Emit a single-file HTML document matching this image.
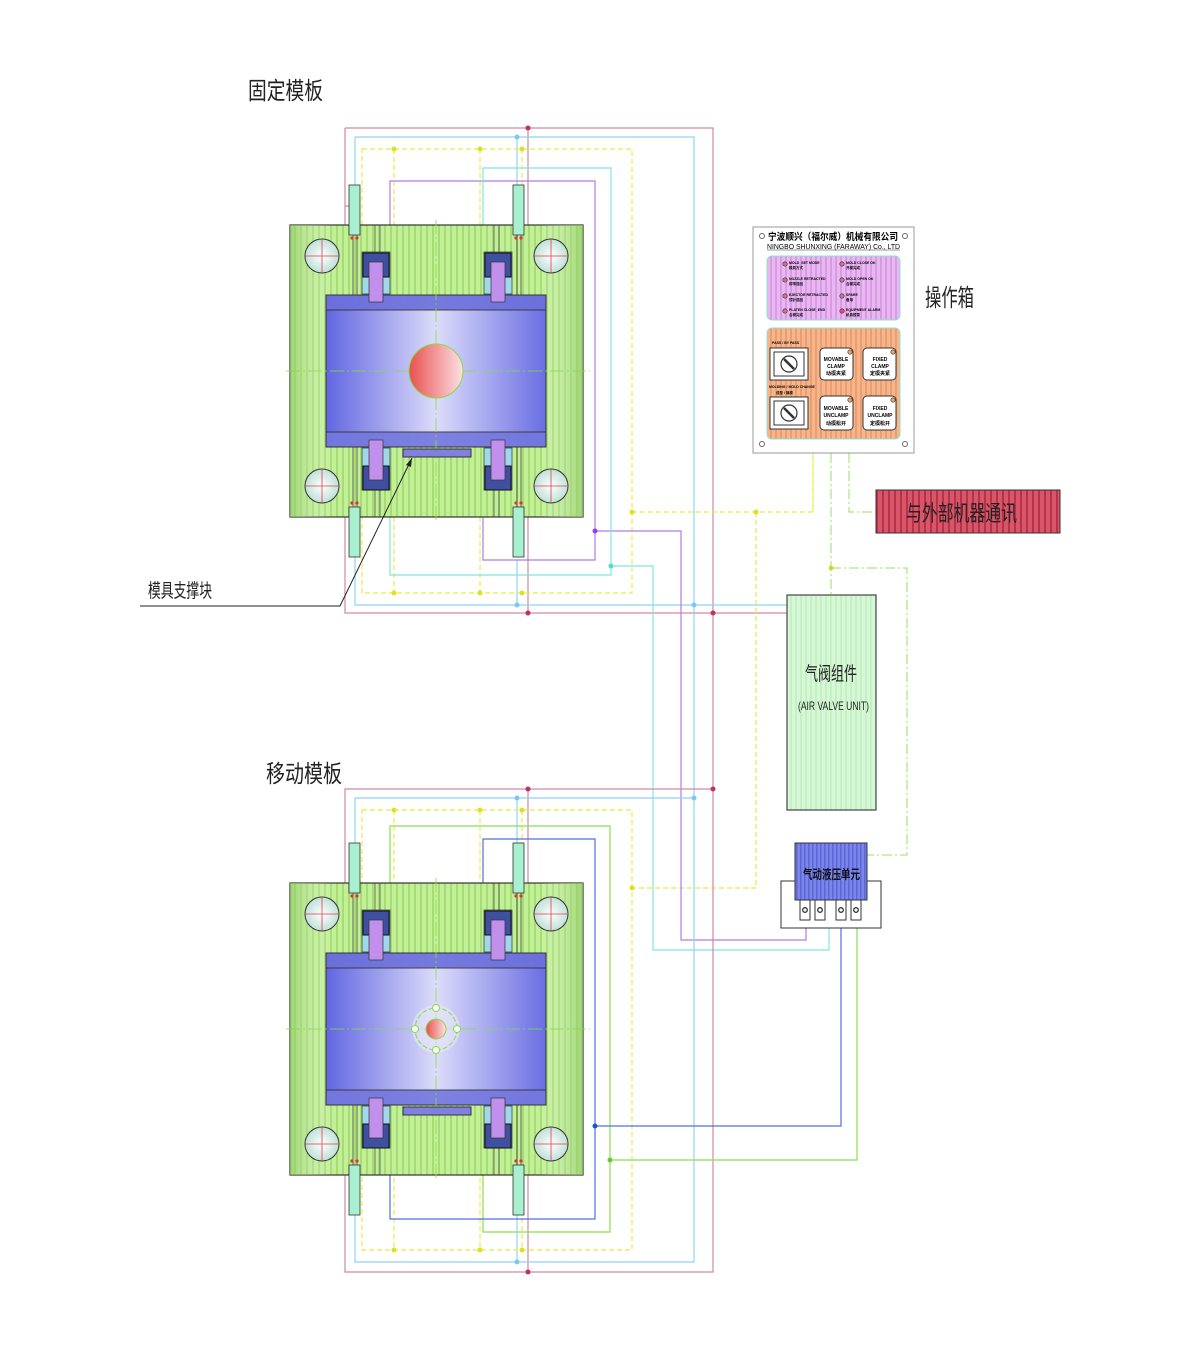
<!DOCTYPE html>
<html><head><meta charset="utf-8"><style>
html,body{margin:0;padding:0;background:#fff;}
svg{display:block;}
text{font-family:"Liberation Sans","Noto Sans CJK SC",sans-serif;}
</style></head><body>
<svg width="1200" height="1350" viewBox="0 0 1200 1350" xmlns="http://www.w3.org/2000/svg">
<defs>
<pattern id="gs" width="6" height="10" patternUnits="userSpaceOnUse"><rect width="6" height="10" fill="#c2f098"/><rect width="2" height="10" fill="#a6dc72"/></pattern>
<pattern id="gl" width="5" height="10" patternUnits="userSpaceOnUse"><rect width="5" height="10" fill="#d6f8d6"/><rect width="2" height="10" fill="#c4f0c4"/></pattern>
<pattern id="rs" width="6" height="10" patternUnits="userSpaceOnUse"><rect width="6" height="10" fill="#d9566a"/><rect width="2" height="10" fill="#b83248"/></pattern>
<pattern id="ps" width="5" height="10" patternUnits="userSpaceOnUse"><rect width="5" height="10" fill="#eab8f0"/><rect width="2" height="10" fill="#d99ae6"/></pattern>
<pattern id="os" width="5" height="10" patternUnits="userSpaceOnUse"><rect width="5" height="10" fill="#f5b68c"/><rect width="2" height="10" fill="#ee9d70"/></pattern>
<pattern id="bs" width="4" height="10" patternUnits="userSpaceOnUse"><rect width="4" height="10" fill="#7a86ea"/><rect width="1.5" height="10" fill="#5c66d8"/></pattern>
<linearGradient id="bg" x1="0" x2="1"><stop offset="0" stop-color="#6266e0"/><stop offset="0.5" stop-color="#dcdcfa"/><stop offset="1" stop-color="#6a6ee2"/></linearGradient>
<linearGradient id="pg" x1="0" x2="1"><stop offset="0" stop-color="#8cc860" stop-opacity="0.7"/><stop offset="0.15" stop-color="#fff" stop-opacity="0"/><stop offset="0.85" stop-color="#fff" stop-opacity="0"/><stop offset="1" stop-color="#8cc860" stop-opacity="0.7"/></linearGradient>
<linearGradient id="rg" x1="0" x2="1"><stop offset="0" stop-color="#e85050"/><stop offset="1" stop-color="#fde0e4"/></linearGradient>
<radialGradient id="cg"><stop offset="0" stop-color="#fff"/><stop offset="1" stop-color="#bfe0d8"/></radialGradient>
<g id="plate">
  <rect x="290" y="225" width="293" height="292" fill="url(#gs)" stroke="#333" stroke-width="1.2"/>
  <rect x="290" y="225" width="293" height="292" fill="url(#pg)"/>
  <line x1="375" y1="225" x2="375" y2="517" stroke="#444" stroke-width="0.7"/><line x1="380" y1="225" x2="380" y2="517" stroke="#444" stroke-width="0.7"/>
  <line x1="494" y1="225" x2="494" y2="517" stroke="#444" stroke-width="0.7"/><line x1="499" y1="225" x2="499" y2="517" stroke="#444" stroke-width="0.7"/>
  <g stroke="#333" fill="url(#cg)"><circle cx="322" cy="256" r="17"/><circle cx="551" cy="256" r="17"/><circle cx="322" cy="486" r="17"/><circle cx="551" cy="486" r="17"/></g>
  <g stroke="#e04050" stroke-width="0.8"><path d="M305 256h34M322 239v34M534 256h34M551 239v34M305 486h34M322 469v34M534 486h34M551 469v34"/></g>
  <rect x="326" y="295" width="220" height="152" fill="url(#bg)" stroke="#333"/>
  <rect x="326" y="295" width="220" height="15" fill="#6c70dc" stroke="#333" opacity="0.9"/>
  <rect x="326" y="432" width="220" height="15" fill="#7478de" stroke="#333" opacity="0.9"/>
  <g fill="#9fd8e8" stroke="#333" stroke-width="0.7">
   <rect x="362" y="252" width="28" height="42"/><rect x="484" y="252" width="28" height="42"/>
   <rect x="362" y="448" width="28" height="42"/><rect x="484" y="448" width="28" height="42"/></g>
  <g fill="#4050a0" stroke="#111"><rect x="363" y="253" width="26" height="24"/><rect x="485" y="253" width="26" height="24"/><rect x="363" y="466" width="26" height="24"/><rect x="485" y="466" width="26" height="24"/></g>
  <g fill="#c090ec" stroke="#333" stroke-width="0.7"><rect x="369" y="262" width="14" height="40"/><rect x="491" y="262" width="14" height="40"/><rect x="369" y="440" width="14" height="40"/><rect x="491" y="440" width="14" height="40"/></g>
  <g fill="#a8f0d0" stroke="#333" stroke-width="0.8"><rect x="349" y="185" width="11" height="50"/><rect x="513" y="185" width="11" height="50"/><rect x="349" y="507" width="11" height="50"/><rect x="513" y="507" width="11" height="50"/></g>
  <g stroke="#333" stroke-width="0.7"><path d="M353 235v60M357 235v60M517 235v60M521 235v60M353 447v60M357 447v60M517 447v60M521 447v60"/></g>
  <g fill="#e03040"><circle cx="352" cy="238" r="1.6"/><circle cx="357" cy="238" r="1.6"/><circle cx="516" cy="238" r="1.6"/><circle cx="521" cy="238" r="1.6"/><circle cx="352" cy="503" r="1.6"/><circle cx="357" cy="503" r="1.6"/><circle cx="516" cy="503" r="1.6"/><circle cx="521" cy="503" r="1.6"/></g>
  <g stroke="#80e040" stroke-width="0.8" stroke-dasharray="14 3 2 3"><line x1="286" y1="371" x2="590" y2="371"/><line x1="436" y1="220" x2="436" y2="522"/></g>
</g>
</defs>

<g fill="none" stroke-width="1.2">
 <path d="M345 128H713V613H787M345 128V613H713M528 128V613M345 206H350M713 613V789" stroke="#d08aa0"/>
 <path d="M355 137H694V605H787M355 137V605H694M517 137V190M517 560V605M694 605V798" stroke="#8fd4f4"/>
 <path d="M362 149H632V593H362ZM394 149V593M480 149V593M522 149V185M632 512H813V453M756 512V888H632" stroke="#e8ec40" stroke-dasharray="5 3"/>
 <path d="M390 275V181H595V560H483V450M595 531H681V940H806V915" stroke="#b07ae8"/>
 <path d="M483 275V168H611V575H390V450M611 566H653V950H829V915" stroke="#7ee8dc"/>
</g>
<g fill="none" stroke-width="1.2">
 <path d="M345 789H713V1272H345ZM528 789V1272" stroke="#d08aa0"/>
 <path d="M355 798H694V1262H355ZM517 798V1262" stroke="#8fd4f4"/>
 <path d="M362 810H632V1250H362ZM394 810V1250M480 810V1250M522 810V1250" stroke="#e8ec40" stroke-dasharray="5 3"/>
 <path d="M390 940V826H610V1232H483V1100M610 1160H857V915" stroke="#88e050"/>
 <path d="M483 940V839H595V1219H390V1100M595 1126H841V915" stroke="#5070e0"/>
</g>
<use href="#plate"/>
<use href="#plate" transform="translate(0,658)"/>
<circle cx="436" cy="371" r="27" fill="url(#rg)" stroke="#80e040"/>
<circle cx="436" cy="1029" r="24" fill="#e8e8fa" opacity="0.6"/>
<circle cx="436" cy="1029" r="21" fill="none" stroke="#80e040" stroke-dasharray="5 2"/>
<circle cx="436" cy="1029" r="10" fill="url(#rg)" stroke="#80e040"/>
<g fill="#fff" stroke="#80e040"><circle cx="415" cy="1029" r="3.5"/><circle cx="457" cy="1029" r="3.5"/><circle cx="436" cy="1008" r="3.5"/><circle cx="436" cy="1050" r="3.5"/></g>
<rect x="403" y="449" width="68" height="8" fill="#8080e0" stroke="#333"/>
<rect x="403" y="1107" width="68" height="8" fill="#8080e0" stroke="#333"/>

<g fill="#c03060"><circle cx="528" cy="128" r="2.5"/><circle cx="528" cy="613" r="2.5"/><circle cx="713" cy="613" r="2.5"/><circle cx="528" cy="789" r="2.5"/><circle cx="713" cy="789" r="2.5"/><circle cx="528" cy="1272" r="2.5"/></g>
<g fill="#7cc8f0"><circle cx="517" cy="137" r="2.5"/><circle cx="517" cy="605" r="2.5"/><circle cx="694" cy="605" r="2.5"/><circle cx="517" cy="798" r="2.5"/><circle cx="694" cy="798" r="2.5"/><circle cx="517" cy="1262" r="2.5"/></g>
<g fill="#e0e020"><circle cx="394" cy="149" r="2.5"/><circle cx="480" cy="149" r="2.5"/><circle cx="522" cy="149" r="2.5"/><circle cx="394" cy="593" r="2.5"/><circle cx="480" cy="593" r="2.5"/><circle cx="522" cy="593" r="2.5"/><circle cx="632" cy="512" r="2.5"/><circle cx="756" cy="512" r="2.5"/><circle cx="632" cy="888" r="2.5"/><circle cx="394" cy="810" r="2.5"/><circle cx="480" cy="810" r="2.5"/><circle cx="522" cy="810" r="2.5"/><circle cx="394" cy="1250" r="2.5"/><circle cx="480" cy="1250" r="2.5"/><circle cx="522" cy="1250" r="2.5"/><circle cx="831" cy="568" r="2.5"/></g>
<circle cx="595" cy="531" r="2.5" fill="#9040f0"/><circle cx="611" cy="566" r="2.5" fill="#50e0c0"/>
<circle cx="595" cy="1126" r="2.5" fill="#2050e0"/><circle cx="610" cy="1160" r="2.5" fill="#60d030"/>

<g fill="none" stroke="#98e060" stroke-width="1" stroke-dasharray="10 3 2 3"><path d="M831 453V595M831 568H907V855H867M849 453V512H876"/></g>
<path d="M813 453V512" stroke="#e8ec40" stroke-dasharray="5 3" fill="none"/>

<rect x="753" y="227" width="161" height="226" fill="#fff" stroke="#999"/>
<circle cx="762" cy="236" r="2.5" fill="none" stroke="#666"/><circle cx="905" cy="236" r="2.5" fill="none" stroke="#666"/>
<circle cx="762" cy="444" r="2.5" fill="none" stroke="#666"/><circle cx="905" cy="444" r="2.5" fill="none" stroke="#666"/>
<text x="768" y="240" font-size="9.5" font-weight="bold" textLength="130" lengthAdjust="spacingAndGlyphs">宁波顺兴（福尔威）机械有限公司</text>
<text x="767" y="249" font-size="7" textLength="133" lengthAdjust="spacingAndGlyphs">NINGBO SHUNXING (FARAWAY) Co., LTD</text>
<line x1="767" y1="250" x2="900" y2="250" stroke="#333" stroke-width="0.6"/>
<rect x="767" y="256" width="133" height="64" rx="5" fill="url(#ps)" stroke="#8ee0d0"/>
<g fill="#cc7090" stroke="#333" stroke-width="0.6">
<circle cx="785" cy="264" r="2.2"/><circle cx="785" cy="280" r="2.2"/><circle cx="785" cy="296" r="2.2"/><circle cx="785" cy="311" r="2.2"/>
<circle cx="842" cy="264" r="2.2"/><circle cx="842" cy="280" r="2.2"/><circle cx="842" cy="296" r="2.2"/><circle cx="842" cy="311" r="2.2" fill="#ff4070"/></g>
<g font-size="3.5" font-weight="bold"><text x="789" y="264">MOLD_SET MODE</text><text x="789" y="280">NOZZLE RETRACTED</text><text x="789" y="296">EJECTOR RETRACTED</text><text x="789" y="311">PLATEN CLOSE_END</text>
<text x="846" y="264">MOLD CLOSE OK</text><text x="846" y="280">MOLD OPEN OK</text><text x="846" y="296">SPARE</text><text x="846" y="311">EQUIPMENT ALARM</text>
<text x="789" y="269">模具方式</text><text x="789" y="285">射嘴退回</text><text x="789" y="301">顶针退回</text><text x="789" y="316">合模完成</text>
<text x="846" y="269">开模完成</text><text x="846" y="285">合模完成</text><text x="846" y="301">备用</text><text x="846" y="316">机具报警</text></g>
<rect x="767" y="328" width="133" height="111" rx="5" fill="url(#os)" stroke="#8ee0d0"/>
<g fill="#fff" stroke="#333"><rect x="770" y="348" width="38" height="32"/><rect x="770" y="397" width="38" height="32"/></g>
<g fill="none" stroke="#333"><rect x="774" y="352" width="30" height="24"/><rect x="774" y="401" width="30" height="24"/></g>
<circle cx="789" cy="364" r="8" fill="#fff" stroke="#333" stroke-width="1.2"/><circle cx="789" cy="413" r="8" fill="#fff" stroke="#333" stroke-width="1.2"/>
<path d="M784 359l10 10M784 408l10 10" stroke="#333" stroke-width="2.5"/>
<g fill="#fff" stroke="#333"><rect x="820" y="348" width="33" height="32" rx="4"/><rect x="863" y="348" width="33" height="32" rx="4"/><rect x="820" y="396" width="33" height="34" rx="4"/><rect x="863" y="396" width="33" height="34" rx="4"/></g>
<g fill="#f0a060" stroke="#333" stroke-width="0.6"><circle cx="850" cy="352" r="2.2"/><circle cx="893" cy="352" r="2.2"/><circle cx="850" cy="400" r="2.2"/><circle cx="893" cy="400" r="2.2"/></g>
<g font-size="5" font-weight="bold" text-anchor="middle">
<text x="836" y="361">MOVABLE</text><text x="836" y="368">CLAMP</text><text x="836" y="375">动模夹紧</text>
<text x="880" y="361">FIXED</text><text x="880" y="368">CLAMP</text><text x="880" y="375">定模夹紧</text>
<text x="836" y="410">MOVABLE</text><text x="836" y="417">UNCLAMP</text><text x="836" y="425">动模松开</text>
<text x="880" y="410">FIXED</text><text x="880" y="417">UNCLAMP</text><text x="880" y="425">定模松开</text></g>
<g font-size="3.5" font-weight="bold"><text x="772" y="344">PASS / BY PASS</text><text x="769" y="388">MOLDING / MOLD CHANGE</text><text x="776" y="394">成型 / 换模</text></g>

<rect x="876" y="490" width="184" height="43" fill="url(#rs)" stroke="#333"/>
<text x="906" y="521" font-size="22" fill="#222" textLength="111" lengthAdjust="spacingAndGlyphs">与外部机器通讯</text>

<rect x="787" y="595" width="89" height="215" fill="url(#gl)" stroke="#444" stroke-width="1.2"/>
<text x="805" y="680" font-size="19" fill="#222" textLength="52" lengthAdjust="spacingAndGlyphs">气阀组件</text>
<text x="798" y="710" font-size="12" fill="#222" textLength="71" lengthAdjust="spacingAndGlyphs">(AIR VALVE UNIT)</text>

<rect x="781" y="881" width="100" height="47" fill="#fff" stroke="#333"/>
<rect x="795" y="843" width="72" height="57" fill="url(#bs)" stroke="#333"/>
<text x="803" y="879" font-size="13" fill="#111" font-weight="bold" textLength="57" lengthAdjust="spacingAndGlyphs">气动液压单元</text>
<g fill="#fff" stroke="#333"><rect x="800" y="900" width="10" height="20"/><rect x="815" y="900" width="10" height="20"/><rect x="836" y="900" width="10" height="20"/><rect x="851" y="900" width="10" height="20"/></g>
<g fill="#fff" stroke="#333" stroke-width="1.3"><circle cx="805" cy="910" r="2.3"/><circle cx="820" cy="910" r="2.3"/><circle cx="841" cy="910" r="2.3"/><circle cx="856" cy="910" r="2.3"/></g>

<text x="248" y="99" font-size="24" fill="#222" textLength="75" lengthAdjust="spacingAndGlyphs">固定模板</text>
<text x="266" y="782" font-size="24" fill="#222" textLength="76" lengthAdjust="spacingAndGlyphs">移动模板</text>
<text x="925" y="306" font-size="24" fill="#222" textLength="49" lengthAdjust="spacingAndGlyphs">操作箱</text>
<text x="148" y="597" font-size="19" fill="#222" textLength="64" lengthAdjust="spacingAndGlyphs">模具支撑块</text>
<path d="M140 606H340L412 458" fill="none" stroke="#222" stroke-width="1"/>
<path d="M412 458l-6 7l5 2z" fill="#222"/>
</svg>
</body></html>
